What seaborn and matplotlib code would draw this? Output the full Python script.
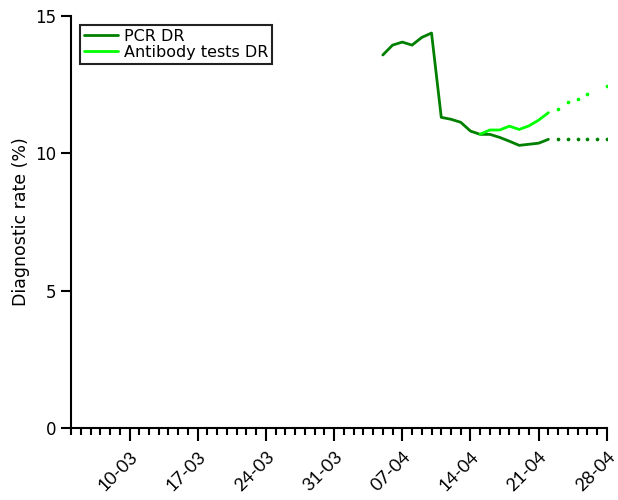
import numpy as np
import pandas as pd
import matplotlib
matplotlib.use("Agg")
import matplotlib.pyplot as plt
import matplotlib.dates as mdates
import seaborn as sns

# ---- data ----
pcr_dates = pd.date_range("2020-04-05", "2020-04-22", freq="D")
pcr_values = [13.58, 13.94, 14.05, 13.94, 14.22, 14.38, 11.31, 11.24, 11.13,
              10.81, 10.69, 10.69, 10.58, 10.44, 10.29, 10.33, 10.37, 10.51]

ab_dates = pd.date_range("2020-04-15", "2020-04-22", freq="D")
ab_values = [10.70, 10.85, 10.85, 10.99, 10.87, 11.00, 11.21, 11.48]

proj_dates = pd.date_range("2020-04-23", "2020-04-28", freq="D")
pcr_proj = [10.51, 10.51, 10.51, 10.51, 10.51, 10.51]
ab_proj = [11.62, 11.88, 11.97, 12.16, np.nan, 12.44]

major_dates = pd.to_datetime(["2020-03-10", "2020-03-17", "2020-03-24", "2020-03-31",
                              "2020-04-07", "2020-04-14", "2020-04-21", "2020-04-28"])
major_labels = ["10-03", "17-03", "24-03", "31-03", "07-04", "14-04", "21-04", "28-04"]
y_ticks = [0, 5, 10, 15]

PCR_COLOR = "#008000"
AB_COLOR = "#00ff00"

sns.set_theme(style="ticks")
plt.rcParams["font.family"] = ["DejaVu Sans"]
plt.rcParams["text.color"] = "black"
plt.rcParams["xtick.color"] = "black"
plt.rcParams["ytick.color"] = "black"
plt.rcParams["axes.labelcolor"] = "black"

fig = plt.figure(figsize=(6.18, 5.0), dpi=100)
ax = fig.add_axes([0.115, 0.144, 0.867, 0.824])

pcr_df = pd.DataFrame({"date": pcr_dates, "value": pcr_values})
ab_df = pd.DataFrame({"date": ab_dates, "value": ab_values})
sns.lineplot(data=pcr_df, x="date", y="value", color=PCR_COLOR, lw=2,
             label="PCR DR", ax=ax)
sns.lineplot(data=ab_df, x="date", y="value", color=AB_COLOR, lw=2,
             label="Antibody tests DR", ax=ax)

pp = pd.DataFrame({"date": proj_dates, "pcr": pcr_proj, "ab": ab_proj})
sns.scatterplot(data=pp, x="date", y="pcr", color=PCR_COLOR, s=7, linewidth=0,
                ax=ax, legend=False)
sns.scatterplot(data=pp.dropna(), x="date", y="ab", color=AB_COLOR, s=7, linewidth=0,
                ax=ax, legend=False)

ax.set_xlim(pd.Timestamp("2020-03-04"), pd.Timestamp("2020-04-28"))
ax.set_ylim(0, 15)
ax.set_yticks(y_ticks)
ax.set_yticklabels([str(t) for t in y_ticks], fontsize=12)
ax.set_xticks(major_dates)
ax.set_xticklabels(major_labels, rotation=45, ha="right", rotation_mode="anchor",
                   fontsize=13, family="Lato")
ax.xaxis.set_minor_locator(mdates.DayLocator())
ax.tick_params(axis="x", which="major", length=9, width=1.5, direction="out", pad=6)
ax.tick_params(axis="x", which="minor", length=5, width=1.5, direction="out")
ax.tick_params(axis="y", which="major", length=7, width=1.5, direction="out")

ax.set_xlabel("")
ax.set_ylabel("Diagnostic rate (%)", fontsize=12.5)

for s in ["top", "right"]:
    ax.spines[s].set_visible(False)
for s in ["left", "bottom"]:
    ax.spines[s].set_linewidth(1.5)
    ax.spines[s].set_color("black")

leg = ax.legend(loc="upper left", bbox_to_anchor=(0.017, 0.978), prop={"size": 11.5},
                frameon=True, fancybox=False, edgecolor="#222222", framealpha=1,
                borderpad=0.25, labelspacing=0.05, handlelength=2.1, handletextpad=0.4,
                borderaxespad=0)
leg.get_frame().set_linewidth(1.5)

fig.savefig("out.png", dpi=100)
